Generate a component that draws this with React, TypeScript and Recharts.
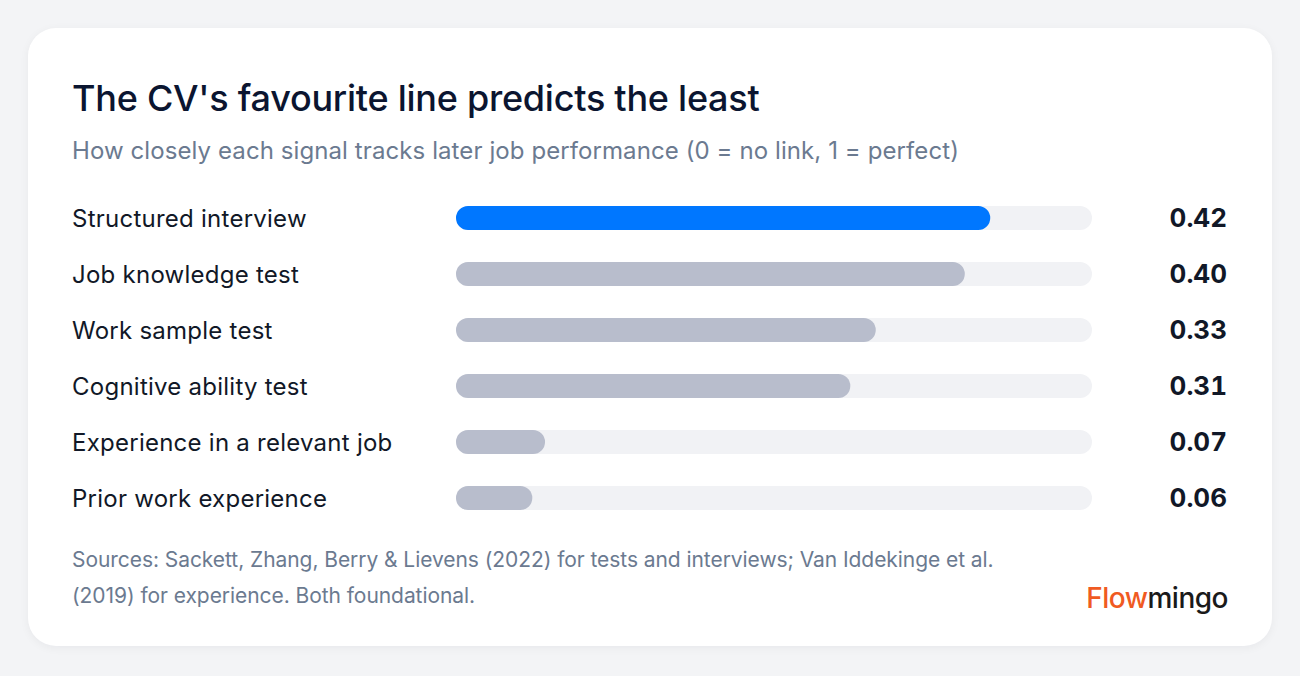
import React from 'react';
import { BarChart, Bar, XAxis, YAxis, Cell, LabelList } from 'recharts';

const signals = [
  'Structured interview',
  'Job knowledge test',
  'Work sample test',
  'Cognitive ability test',
  'Experience in a relevant job',
  'Prior work experience',
];
const validity = [0.42, 0.4, 0.33, 0.31, 0.07, 0.06];
const highlighted = ['Structured interview'];

const data = signals.map((name, i) => ({ name, value: validity[i] }));

const FONT = 'Inter, "Noto Sans", sans-serif';
const BLUE = '#0077ff';
const GREY = '#b8bdcc';
const TRACK = '#f1f2f5';

const LabelTick = (props: any) => {
  const { y, payload } = props;
  return (
    <text x={0} y={y} dy={9} textAnchor="start" fill="#111827" fontSize={24} letterSpacing={0.25} fontFamily={FONT}>
      {payload.value}
    </text>
  );
};

const ValueLabel = (props: any) => {
  const { y, height, value } = props;
  return (
    <text
      x={1155}
      y={y + height / 2}
      dy={9}
      textAnchor="end"
      fill="#111827"
      fontSize={26}
      fontWeight={700}
      fontFamily={FONT}
      style={{ fontVariantNumeric: 'tabular-nums' }}
    >
      {Number(value).toFixed(2)}
    </text>
  );
};

export default function App() {
  return (
    <div style={{ width: 1300, height: 676, background: '#f3f4f6', position: 'relative', fontFamily: FONT }}>
      <style>{`body{margin:0}`}</style>
      <div
        style={{
          position: 'absolute',
          left: 28,
          top: 28,
          width: 1244,
          height: 618,
          background: '#fff',
          borderRadius: 28,
          boxShadow: '0 2px 10px rgba(15,23,42,0.05)',
        }}
      >
        <div style={{ position: 'absolute', left: 44, top: 48, fontSize: 36, fontWeight: 500, color: '#0b1530', letterSpacing: -0.25, lineHeight: '44px' }}>
          The CV's favourite line predicts the least
        </div>
        <div style={{ position: 'absolute', left: 44, top: 107, fontSize: 24, color: '#6b7a90', letterSpacing: 0.09, lineHeight: '32px' }}>
          How closely each signal tracks later job performance (0 = no link, 1 = perfect)
        </div>
        <div style={{ position: 'absolute', left: 44, top: 162 }}>
          <BarChart
            width={1160}
            height={336}
            data={data}
            layout="vertical"
            margin={{ top: 0, right: 140, bottom: 0, left: 0 }}
            barSize={24}
          >
            <XAxis type="number" domain={[0, 0.5]} hide />
            <YAxis
              type="category"
              dataKey="name"
              width={384}
              axisLine={false}
              tickLine={false}
              tick={<LabelTick />}
            />
            <Bar
              dataKey="value"
              radius={12}
              background={{ fill: TRACK, radius: 12 } as any}
              isAnimationActive={false}
            >
              {data.map((d) => (
                <Cell key={d.name} fill={highlighted.includes(d.name) ? BLUE : GREY} />
              ))}
              <LabelList dataKey="value" content={<ValueLabel />} />
            </Bar>
          </BarChart>
        </div>
        <div style={{ position: 'absolute', left: 44, top: 514, width: 940, fontSize: 21, color: '#6b7a90', letterSpacing: -0.06, lineHeight: '36px' }}>
          Sources: Sackett, Zhang, Berry &amp; Lievens (2022) for tests and interviews; Van Iddekinge et al. (2019) for experience. Both foundational.
        </div>
        <div style={{ position: 'absolute', right: 44, top: 552, fontSize: 28, fontWeight: 500, letterSpacing: -0.5, lineHeight: '36px' }}>
          <span style={{ color: '#f05a22' }}>Flow</span>
          <span style={{ color: '#1a1a1a' }}>mingo</span>
        </div>
      </div>
    </div>
  );
}
